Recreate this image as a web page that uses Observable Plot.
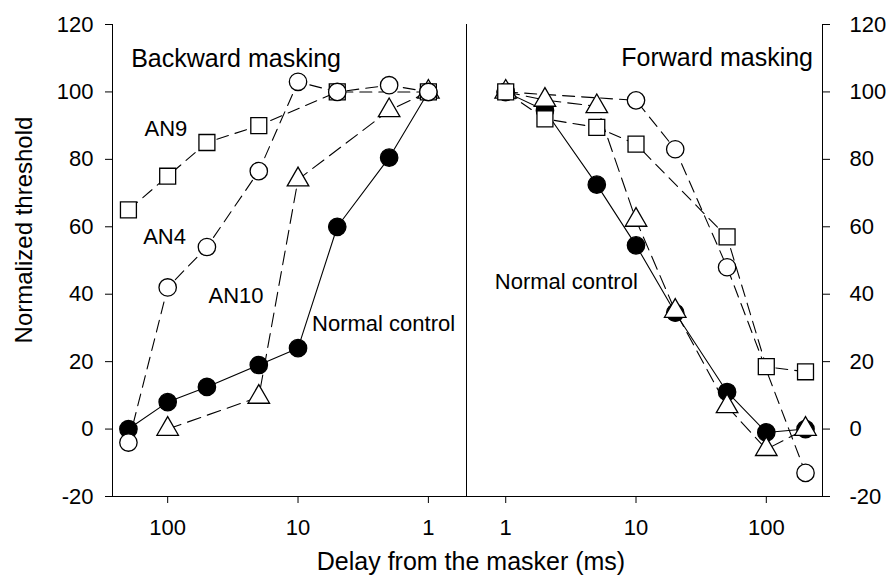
<!DOCTYPE html>
<html>
<head>
<meta charset="utf-8">
<script src="https://cdn.jsdelivr.net/npm/d3@7"></script>
<script src="https://cdn.jsdelivr.net/npm/@observablehq/plot@0.6"></script>
<style>
  body { margin: 0; background: #fff; }
  #chart { position: relative; width: 886px; height: 579px; font-family: "Liberation Sans", Arial, sans-serif; color: #000; }
  #chart svg { position: absolute; top: 0; overflow: visible; }
  .title { position: absolute; white-space: nowrap; line-height: 1; transform: translate(-50%, -50%); }
</style>
</head>
<body>
<div id="chart"></div>
<script>
// ---- data ----
const backDelays = [200, 100, 50, 20, 10, 5, 2, 1];
const backNormal = [0, 8, 12.5, 19, 24, 60, 80.5, 100];
const backAN9    = [65, 75, 85, 90, null, 100, null, 100];
const backAN4    = [-4, 42, 54, 76.5, 103, 100, 102, 100];
const backAN10   = [null, 0, null, 9.5, 74, null, 94.5, 100];

const fwdDelays = [1, 2, 5, 10, 20, 50, 100, 200];
const fwdNormal = [100, 94.5, 72.5, 54.5, 34.5, 11, -1, 0];
const fwdAN9    = [100, 92, 89.5, 84.5, null, 57, 18.5, 17];
const fwdAN4    = [100, null, null, 97.5, 83, 48, null, -13];
const fwdAN10   = [100, 97.6, 95.7, 62, 35, 6.7, -6, 0];

const yTicks = [-20, 0, 20, 40, 60, 80, 100, 120];
const xTicks = [1, 10, 100];

const backLabelText  = ["Backward masking", "AN9", "AN4", "AN10", "Normal control"];
const backLabelDelay = [190.5, 150.6, 154.1, 48.6, 7.8];
const backLabelValue = [109.9, 89.15, 57.1, 39.4, 31.3];

const fwdLabelText  = ["Forward masking", "Normal control"];
const fwdLabelDelay = [228.3, 0.824];
const fwdLabelValue = [110.2, 43.5];

// ---- layout ----
const W = 886, H = 579;
const mTop = 24, mBottom = 83, splitX = 466, mLeft = 112, mRight = 64;
const yDomain = [-20, 120];
const backDomain = [265, 0.51];
const fwdDomain = [0.5, 270];

const seriesStyle = {
  normal: {symbol: "circle", fill: "#000", dash: null, r: 8.7},
  AN4:    {symbol: "circle", fill: "#fff", dash: "12,7", r: 8.7},
  AN10:   {symbol: "triangle", fill: "#fff", dash: "14,7", r: 8},
  AN9:    {symbol: "square", fill: "#fff", dash: "12,7", r: 9}
};

function rows(delays, vals) {
  return delays.map((d, i) => ({delay: d, value: vals[i]})).filter(r => r.value != null);
}
function lineMark(data, key) {
  const s = seriesStyle[key];
  return Plot.line(data, {x: "delay", y: "value", stroke: "#000", strokeWidth: 1.1, strokeDasharray: s.dash});
}
function dotMark(data, key) {
  const s = seriesStyle[key];
  return Plot.dot(data, {x: "delay", y: "value", symbol: () => s.symbol, r: s.r, fill: s.fill, stroke: "#000", strokeWidth: 1.3});
}

const style = {fontFamily: '"Liberation Sans", Arial, sans-serif', fontSize: "22px", color: "#000", background: "transparent", overflow: "visible"};
const fmt = d => String(d);

const back = {
  normal: rows(backDelays, backNormal),
  AN9: rows(backDelays, backAN9),
  AN4: rows(backDelays, backAN4),
  AN10: rows(backDelays, backAN10)
};
const fwd = {
  normal: rows(fwdDelays, fwdNormal),
  AN9: rows(fwdDelays, fwdAN9),
  AN4: rows(fwdDelays, fwdAN4),
  AN10: rows(fwdDelays, fwdAN10)
};

const backLabels = backLabelText.map((t, i) => ({text: t, delay: backLabelDelay[i], value: backLabelValue[i]}));
const fwdLabels = fwdLabelText.map((t, i) => ({text: t, delay: fwdLabelDelay[i], value: fwdLabelValue[i]}));

const left = Plot.plot({
  width: splitX, height: H,
  marginLeft: mLeft, marginRight: 0, marginTop: mTop, marginBottom: mBottom,
  style,
  x: {type: "log", domain: backDomain, ticks: xTicks, tickFormat: fmt, tickSize: 7, tickPadding: 16, line: true, label: null},
  y: {domain: yDomain, ticks: yTicks, tickFormat: fmt, tickSize: 7, tickPadding: 12, line: true, label: null},
  marks: [
    Plot.ruleX([backDomain[1]], {y1: yDomain[0], y2: yDomain[1], stroke: "#000", strokeWidth: 1}),
    lineMark(back.normal, "normal"),
    lineMark(back.AN10, "AN10"),
    lineMark(back.AN9, "AN9"),
    lineMark(back.AN4, "AN4"),
    dotMark(back.normal, "normal"),
    dotMark(back.AN10, "AN10"),
    dotMark(back.AN9, "AN9"),
    dotMark(back.AN4, "AN4"),
    Plot.text(backLabels.slice(0, 1), {x: "delay", y: "value", text: "text", fontSize: 25, textAnchor: "start", fill: "#000"}),
    Plot.text(backLabels.slice(1), {x: "delay", y: "value", text: "text", fontSize: 22, textAnchor: "start", fill: "#000"})
  ]
});

const right = Plot.plot({
  width: W - splitX, height: H,
  marginLeft: 0, marginRight: mRight, marginTop: mTop, marginBottom: mBottom,
  style,
  x: {type: "log", domain: fwdDomain, ticks: xTicks, tickFormat: fmt, tickSize: 7, tickPadding: 16, line: true, label: null},
  y: {axis: "right", domain: yDomain, ticks: yTicks, tickFormat: fmt, tickSize: 7, tickPadding: 20, line: true, label: null},
  marks: [
    lineMark(fwd.normal, "normal"),
    lineMark(fwd.AN4, "AN4"),
    lineMark(fwd.AN10, "AN10"),
    lineMark(fwd.AN9, "AN9"),
    dotMark(fwd.normal, "normal"),
    dotMark(fwd.AN4, "AN4"),
    dotMark(fwd.AN10, "AN10"),
    dotMark(fwd.AN9, "AN9"),
    Plot.text(fwdLabels.slice(0, 1), {x: "delay", y: "value", text: "text", fontSize: 25, textAnchor: "end", fill: "#000"}),
    Plot.text(fwdLabels.slice(1), {x: "delay", y: "value", text: "text", fontSize: 22, textAnchor: "start", fill: "#000"})
  ]
});

const chart = document.getElementById("chart");
left.style.left = "0px";
right.style.left = splitX + "px";
chart.appendChild(left);
chart.appendChild(right);

const yTitle = document.createElement("div");
yTitle.className = "title";
yTitle.textContent = "Normalized threshold";
yTitle.style.cssText = "left:24px;top:230px;font-size:24px;transform:translate(-50%,-50%) rotate(-90deg);";
chart.appendChild(yTitle);

const xTitle = document.createElement("div");
xTitle.className = "title";
xTitle.textContent = "Delay from the masker (ms)";
xTitle.style.cssText = "left:471px;top:561px;font-size:25px;";
chart.appendChild(xTitle);
</script>
</body>
</html>
